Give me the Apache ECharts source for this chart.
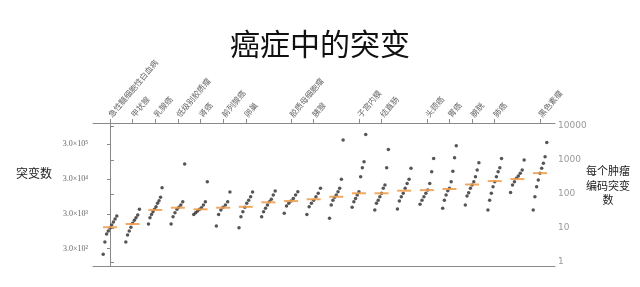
<!DOCTYPE html>
<html>
<head>
<meta charset="utf-8">
<script src="https://cdn.jsdelivr.net/npm/echarts@6/dist/echarts.min.js"></script>
<style>
  html, body { margin: 0; padding: 0; background: #fff; }
  #main { width: 640px; height: 287px; }
</style>
</head>
<body>
<div id="main"></div>
<script>
// 癌症类型（顶部标签，空字符串的位置没有标签）
var cancerNames = [
  '急性髓细胞性白血病', '甲状腺', '乳腺癌', '低级别胶质瘤', '肾癌', '前列腺癌', '卵巢',
  '', '胶质母细胞瘤', '胰腺', '', '子宫内膜', '结直肠', '', '头颈癌', '胃癌',
  '膀胱', '肺癌', '', '黑色素瘤'
];

// 每个肿瘤的编码突变数（每组按从小到大排列）
var mut0 = [1.7, 3.9, 6.7, 8.1, 10, 12.3, 15, 18.4, 22.5];
var mut1 = [3.9, 6.2, 8.2, 10.5, 13.7, 17, 20, 24, 35.5];
var mut2 = [13, 20, 25, 30, 35.5, 42, 53, 63, 80, 153];
var mut3 = [13, 21.5, 28, 35.5, 40.5, 47.5, 59, 760];
var mut4 = [25, 28, 31.5, 35.5, 39.5, 47.5, 59, 230];
var mut5 = [11.4, 25, 34, 40.5, 47.5, 59, 114];
var mut6 = [10.2, 21.5, 30, 40.5, 53, 66, 83, 114];
var mut7 = [21.5, 30, 38, 47.5, 59, 70, 93, 122];
var mut8 = [27, 44, 53, 62, 74, 93, 117];
var mut9 = [25, 42, 53, 66, 83, 105, 147];
var mut10 = [19.3, 47.5, 66, 80, 93, 117, 147, 270, 3870];
var mut11 = [40.5, 59, 74, 93, 117, 320, 590, 890, 5640];
var mut12 = [34, 53, 66, 83, 105, 147, 184, 590, 2050];
var mut13 = [36, 62, 83, 105, 147, 205, 270, 570];
var mut14 = [50, 66, 83, 105, 130, 205, 450, 1110];
var mut15 = [38, 66, 93, 125, 147, 230, 470, 1160, 2640];
var mut16 = [47.5, 87, 109, 147, 184, 230, 320, 510, 830];
var mut17 = [34, 66, 105, 164, 230, 320, 450, 590, 1110];
var mut18 = [111, 184, 230, 290, 340, 410, 510, 1000];
var mut19 = [34, 83, 164, 260, 410, 570, 800, 1250, 3290];

// 中位数
var medians = [10.5, 13.1, 34, 39.5, 35.5, 39.5, 42, 57, 62, 70,
  83, 105, 105, 125, 130, 140, 190, 240, 275, 410];

// 坐标轴刻度
var leftTicks = [300, 3000, 30000, 300000];
var leftTickText = ['3.0×10²', '3.0×10³', '3.0×10⁴', '3.0×10⁵'];
var rightTicks = [1, 10, 100, 1000, 10000];

var groups = [mut0, mut1, mut2, mut3, mut4, mut5, mut6, mut7, mut8, mut9,
  mut10, mut11, mut12, mut13, mut14, mut15, mut16, mut17, mut18, mut19];

var dots = [];
groups.forEach(function(g, i) {
  var n = g.length;
  g.forEach(function(v, j) {
    dots.push([i - 0.3 + 0.6 * j / (n - 1), v]);
  });
});
var medianPts = medians.map(function(v, i) { return [i, v]; });

var labelIdx = [];
cancerNames.forEach(function(s, i) { if (s) labelIdx.push(i); });

var chart = echarts.init(document.getElementById('main'));
var frameColor = '#8a8a8a';

var option = {
  animation: false,
  title: {
    text: '癌症中的突变',
    left: 'center',
    top: 24,
    textStyle: {
      fontFamily: 'Noto Sans CJK SC',
      fontSize: 30,
      fontWeight: 'normal',
      color: '#111'
    }
  },
  graphic: [{
    type: 'text',
    x: 16,
    y: 167,
    style: {
      text: '突变数',
      font: '12px "Noto Sans CJK SC"',
      fill: '#222'
    }
  }, {
    type: 'text',
    x: 608,
    y: 164,
    style: {
      text: '每个肿瘤\n编码突变\n数',
      font: '11px "Noto Sans CJK SC"',
      fill: '#222',
      align: 'center',
      verticalAlign: 'top',
      lineHeight: 14.5
    }
  }],
  grid: {
    left: 93,
    right: 85,
    top: 123,
    bottom: 21,
    containLabel: false
  },
  xAxis: [{
    type: 'value',
    position: 'top',
    min: -0.751,
    max: 19.663,
    splitLine: { show: false },
    axisLine: { lineStyle: { color: frameColor } },
    axisTick: {
      show: true,
      customValues: labelIdx,
      length: 4,
      lineStyle: { color: frameColor }
    },
    axisLabel: {
      customValues: labelIdx,
      rotate: -50,
      margin: 7,
      fontSize: 8,
      color: '#666',
      fontFamily: 'Noto Sans CJK SC',
      formatter: function(v) { return cancerNames[Math.round(v)] || ''; }
    }
  }, {
    type: 'value',
    position: 'bottom',
    min: -0.751,
    max: 19.663,
    splitLine: { show: false },
    axisLine: { lineStyle: { color: frameColor } },
    axisTick: { show: false },
    axisLabel: { show: false }
  }],
  yAxis: [{
    type: 'log',
    position: 'left',
    min: 95.5,
    max: 1228000,
    splitLine: { show: false },
    axisLine: { show: true, lineStyle: { color: frameColor } },
    axisTick: {
      show: true,
      customValues: leftTicks,
      length: 3,
      lineStyle: { color: frameColor }
    },
    axisLabel: {
      customValues: leftTicks,
      fontSize: 8,
      margin: 5,
      color: '#666',
      fontFamily: 'Liberation Serif',
      formatter: function(v) {
        var k = leftTicks.indexOf(Math.round(v));
        return k >= 0 ? leftTickText[k] : '';
      }
    }
  }, {
    type: 'log',
    position: 'right',
    min: 0.762,
    max: 12250,
    splitLine: { show: false },
    axisLine: { show: true, lineStyle: { color: frameColor } },
    axisTick: {
      show: true,
      customValues: rightTicks,
      length: 4,
      lineStyle: { color: frameColor }
    },
    axisLabel: {
      customValues: rightTicks,
      fontSize: 9,
      margin: 3,
      color: '#9a9a9a',
      fontFamily: 'DejaVu Sans',
      formatter: function(v) { return String(Math.round(v)); }
    }
  }],
  series: [{
    type: 'scatter',
    xAxisIndex: 0,
    yAxisIndex: 1,
    data: dots,
    symbol: 'circle',
    symbolSize: 3.5,
    itemStyle: { color: '#2a2a2a' },
    silent: true
  }, {
    type: 'scatter',
    xAxisIndex: 0,
    yAxisIndex: 1,
    data: medianPts,
    symbol: 'rect',
    symbolSize: [14, 2],
    itemStyle: { color: '#f0a050', opacity: 0.9 },
    z: 3,
    silent: true
  }]
};

chart.setOption(option);
</script>
</body>
</html>
